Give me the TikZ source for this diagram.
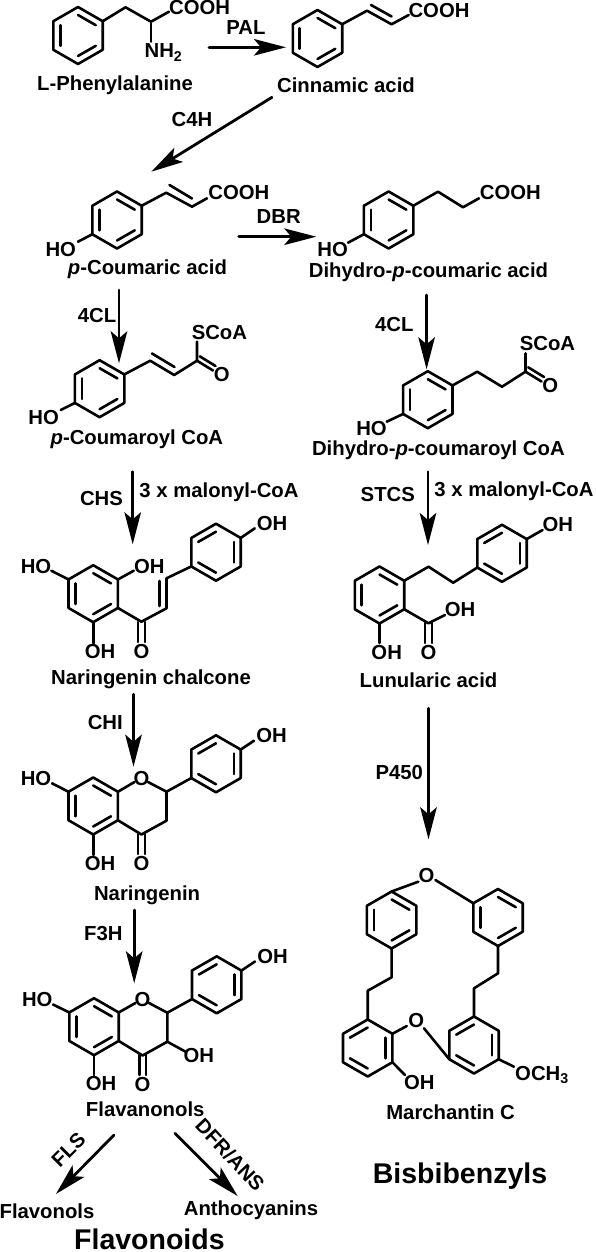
\documentclass[tikz,border=0pt]{standalone}
\usepackage{fontspec}
\setmainfont{Liberation Sans}
\usepackage{tikz}
\usetikzlibrary{arrows.meta}

\begin{document}
\begin{tikzpicture}[
  x=1pt,y=-1pt,
  line cap=round,
  line join=round,
  >={Stealth[length=32pt,width=16.5pt,inset=7pt]},
  bond/.style={draw=black,line width=2.6pt},
  rxn/.style={draw=black,line width=2.8pt,->},
  lab/.style={inner sep=0pt,font=\bfseries\fontsize{20.3}{22}\selectfont},
  big/.style={inner sep=0pt,font=\bfseries\fontsize{28.5}{30}\selectfont},
  ringa/.pic={
    \draw[bond] (0,-28.5) coordinate (-t) -- (24.7,-14.25) coordinate (-ur) -- (24.7,14.25) coordinate (-lr)
      -- (0,28.5) coordinate (-b) -- (-24.7,14.25) coordinate (-ll) -- (-24.7,-14.25) coordinate (-ul) -- cycle;
    \draw[bond] (0,-20.5) -- (17.8,-10.3);
    \draw[bond] (17.8,10.3) -- (0,20.5);
    \draw[bond] (-17.8,10.3) -- (-17.8,-10.3);
  },
  ringb/.pic={
    \draw[bond] (0,-28.5) coordinate (-t) -- (24.7,-14.25) coordinate (-ur) -- (24.7,14.25) coordinate (-lr)
      -- (0,28.5) coordinate (-b) -- (-24.7,14.25) coordinate (-ll) -- (-24.7,-14.25) coordinate (-ul) -- cycle;
    \draw[bond] (0,-20.5) -- (-17.8,-10.3);
    \draw[bond] (-17.8,10.3) -- (0,20.5);
    \draw[bond] (17.8,10.3) -- (17.8,-10.3);
  }
]
\useasboundingbox (0,0) rectangle (596,1252);

% L-Phenylalanine
\pic (phe) at (78,35.5) {ringa};
\draw[bond] (phe-ur) -- (125.5,7.3) -- (151,21.7) -- (169,11.7);
\draw[bond] (151,21.7) -- (151,41.7);
\node[lab] (phecooh) at (199.6,8) {COOH};
\node[lab] (nh) at (163.5,52.5) {NH\textsubscript{2}};
\node[lab] (phename) at (115,85) {L-Phenylalanine};

% Cinnamic acid
\pic (cin) at (317.5,38.5) {ringa};
\draw[bond] (cin-ur) -- (367,10.7) -- (391.6,24.3) -- (408.7,15);
\draw[bond] (371,5) -- (391.6,16.5);
\node[lab] (cincooh) at (439,10.7) {COOH};
\node[lab] (cinname) at (346,85.5) {Cinnamic acid};

% p-Coumaric acid
\pic (cou) at (117,220) {ringa};
\draw[bond] (cou-ur) -- (166.2,192.7) -- (192,206.7) -- (207,198.3);
\draw[bond] (169.5,185) -- (192,198.5);
\draw[bond] (cou-ll) -- (78,241.7);
\node[lab] (coucooh) at (238.8,192.7) {COOH};
\node[lab] (couho) at (60.8,249.3) {HO};
\node[lab] (couname) at (147.5,269) {\textit{p}-Coumaric acid};

% Dihydro-p-coumaric acid
\pic (dih) at (388.6,220) {ringa};
\draw[bond] (dih-ur) -- (438,191.7) -- (463,207.3) -- (479,198.3);
\draw[bond] (dih-ll) -- (348,242.7);
\node[lab] (dihcooh) at (510.3,192.7) {COOH};
\node[lab] (dihho) at (332.7,249.3) {HO};
\node[lab] (dihname) at (428.5,272.5) {Dihydro-\textit{p}-coumaric acid};

% p-Coumaroyl CoA
\pic (coa) at (99.6,388.7) {ringa};
\draw[bond] (coa-ur) -- (150.2,360.7) -- (174.1,375) -- (197,360.7) -- (197,341.7);
\draw[bond] (152,353.5) -- (174.5,367);
\draw[bond] (coa-ll) -- (60.8,410);
\draw[bond] (197,360.7) -- (213,370.5);
\draw[bond] (199.7,356.3) -- (215.5,366);
\node[lab] (coas) at (219.4,332.7) {SCoA};
\node[lab] (coao) at (221.7,375) {O};
\node[lab] (coaho) at (43.7,417.3) {HO};
\node[lab] (coaname) at (136.9,439) {\textit{p}-Coumaroyl CoA};

% Dihydro-p-coumaroyl CoA
\pic (dic) at (427.8,399.7) {ringa};
\draw[bond] (dic-ur) -- (477.2,371.7) -- (502,386.7) -- (525.5,371.7) -- (525.5,353.3);
\draw[bond] (dic-ll) -- (386.7,421.7);
\draw[bond] (525.5,371.7) -- (541.5,381.5);
\draw[bond] (528.2,367.3) -- (544,377);
\node[lab] (dics) at (547.5,343.3) {SCoA};
\node[lab] (dico) at (550.2,386) {O};
\node[lab] (dicho) at (371.5,428.3) {HO};
\node[lab] (dicname) at (438.4,450.5) {Dihydro-\textit{p}-coumaroyl CoA};

% Naringenin chalcone
\pic (cha) at (93.2,593.7) {ringa};
\pic (chb) at (216,552.2) {ringb};
\draw[bond] (cha-lr) -- (141.4,621.7) -- (166.5,608.3) -- (166.5,578.3) -- (chb-ll);
\draw[bond] (159.5,581) -- (159.5,606);
\draw[bond] (138,622) -- (138,642);
\draw[bond] (144.8,622) -- (144.8,642);
\draw[bond] (cha-ul) -- (51.3,570.7);
\draw[bond] (cha-ur) -- (133.8,570.7);
\draw[bond] (cha-b) -- (93.2,643.3);
\draw[bond] (chb-ur) -- (254.8,528.3);
\node[lab] (chaho) at (36,566.7) {HO};
\node[lab] (chaoh) at (149.4,566.7) {OH};
\node[lab] (chaoh2) at (100,651.7) {OH};
\node[lab] (chao) at (141.4,651.7) {O};
\node[lab] (choh) at (272,524) {OH};
\node[lab] (chaname) at (151,679) {Naringenin chalcone};

% Naringenin
\pic (nara) at (93.2,806) {ringa};
\pic (narb) at (216,763.8) {ringb};
\draw[bond] (nara-ur) -- (134.5,782);
\draw[bond] (148,782) -- (166.5,791.7) -- (166.5,820.7) -- (141.4,834.5) -- (nara-lr);
\draw[bond] (166.5,791.7) -- (narb-ll);
\draw[bond] (138,834) -- (138,854);
\draw[bond] (144.8,834) -- (144.8,854);
\draw[bond] (nara-ul) -- (52,783.3);
\draw[bond] (nara-b) -- (93.2,855);
\draw[bond] (narb-ur) -- (254,740.7);
\node[lab] (naro) at (141.4,778.3) {O};
\node[lab] (naro2) at (141.4,864) {O};
\node[lab] (narho) at (36,778.3) {HO};
\node[lab] (naroh) at (100,863.3) {OH};
\node[lab] (naroh2) at (271.5,736) {OH};
\node[lab] (narname) at (147.1,895.5) {Naringenin};

% Flavanonols
\pic (flaa) at (94,1026.7) {ringa};
\pic (flab) at (216.7,984.8) {ringb};
\draw[bond] (flaa-ur) -- (135.5,1003);
\draw[bond] (149,1003) -- (167.3,1012.7) -- (167.3,1041.7) -- (142.6,1055.5) -- (flaa-lr);
\draw[bond] (167.3,1012.7) -- (flab-ll);
\draw[bond] (167.3,1041.7) -- (185.6,1051.7);
\draw[bond] (139.2,1055) -- (139.2,1075);
\draw[bond] (146,1055) -- (146,1075);
\draw[bond] (flaa-ul) -- (53,1004.5);
\draw[bond] (flaa-b) -- (94,1076);
\draw[bond] (flab-ur) -- (255,961.5);
\node[lab] (flao) at (142.6,999.3) {O};
\node[lab] (flao2) at (142.6,1084) {O};
\node[lab] (flaoh) at (198.9,1055.7) {OH};
\node[lab] (flaho) at (37.3,999.3) {HO};
\node[lab] (flaoh2) at (101.1,1083.3) {OH};
\node[lab] (flaoh3) at (272.6,956.7) {OH};
\node[lab] (flaname) at (145.2,1109) {Flavanonols};

% Lunularic acid
\pic (luna) at (379.5,595) {ringa};
\pic (lunb) at (502,553.3) {ringb};
\draw[bond] (luna-ur) -- (428.5,566.7) -- (453.2,582.7) -- (lunb-ll);
\draw[bond] (luna-lr) -- (428.5,623.3) -- (444.9,615);
\draw[bond] (425.1,623) -- (425.1,643);
\draw[bond] (431.9,623) -- (431.9,643);
\draw[bond] (luna-b) -- (379.5,643);
\draw[bond] (lunb-ur) -- (542.6,530);
\node[lab] (lunoh) at (460,610) {OH};
\node[lab] (luno) at (428.5,652.7) {O};
\node[lab] (lunoh2) at (386.7,652.7) {OH};
\node[lab] (lunoh3) at (557.8,525) {OH};
\node[lab] (lunname) at (428.5,680.5) {Lunularic acid};

% Marchantin C
\pic (mup) at (391.6,920) {ringa};
\pic (mur) at (498,917.5) {ringa};
\pic (mlo) at (367.7,1048) {ringb};
\pic (mlr) at (474,1045) {ringb};
\draw[bond] (mup-t) -- (418.3,881.7);
\draw[bond] (mur-ul) -- (435.4,880);
\draw[bond] (mup-b) -- (391.6,977.3) -- (367.7,990.7) -- (mlo-t);
\draw[bond] (mur-b) -- (498,973.3) -- (474,988.3) -- (mlr-t);
\draw[bond] (mlo-ur) -- (406.8,1026);
\draw[bond] (424,1028.3) -- (mlr-ll);
\draw[bond] (mlo-lr) -- (405,1075);
\draw[bond] (mlr-lr) -- (514,1066.7);
\node[lab] (mo) at (426.6,876) {O};
\node[lab] (mo2) at (416.3,1020.7) {O};
\node[lab] (moh) at (419.4,1082.7) {OH};
\node[lab,anchor=west] (moch) at (515,1075) {OCH\textsubscript{3}};
\node[lab] (mname) at (450.6,1112.7) {Marchantin C};
\node[big] (bis) at (460,1176) {Bisbibenzyls};

% Reaction arrows
\coordinate (palA) at (209,47.3);
\coordinate (palB) at (286,47.3);
\draw[rxn] (palA) -- (palB);
\node[lab] (pal) at (246,27.3) {PAL};
\coordinate (chA) at (272,97.3);
\coordinate (chB) at (151.3,171.7);
\draw[rxn] (chA) -- (chB);
\node[lab] (cfh) at (192,119.3) {C4H};
\coordinate (dbA) at (238.8,236.7);
\coordinate (dbB) at (316.3,236.7);
\draw[rxn] (dbA) -- (dbB);
\node[lab] (dbr) at (278.7,216.7) {DBR};
\coordinate (clA) at (119,290);
\coordinate (clB) at (119,363.3);
\draw[rxn] (clA) -- (clB);
\node[lab] (fcl) at (97,316) {4CL};
\coordinate (crA) at (426.6,295);
\coordinate (crB) at (426.6,369.3);
\draw[rxn] (crA) -- (crB);
\node[lab] (fcr) at (394.3,324.3) {4CL};
\coordinate (csA) at (132.7,471.7);
\coordinate (csB) at (132.7,544.3);
\draw[rxn] (csA) -- (csB);
\node[lab] (chs) at (101.5,498.3) {CHS};
\node[lab] (mall) at (219,492.3) {3 x malonyl-CoA};
\coordinate (stA) at (428,471.7);
\coordinate (stB) at (428,545);
\draw[rxn] (stA) -- (stB);
\node[lab] (stcs) at (387.8,494.3) {STCS};
\node[lab] (malr) at (514,491) {3 x malonyl-CoA};
\coordinate (ciA) at (133.5,694.3);
\coordinate (ciB) at (133.5,766.7);
\draw[rxn] (ciA) -- (ciB);
\node[lab] (chi) at (105.3,722.7) {CHI};
\coordinate (fhA) at (134.2,910);
\coordinate (fhB) at (134.2,983.3);
\draw[rxn] (fhA) -- (fhB);
\node[lab] (fth) at (103.4,934) {F3H};
\coordinate (poA) at (428.5,708.3);
\coordinate (poB) at (428.5,839.3);
\draw[rxn] (poA) -- (poB);
\node[lab] (pfo) at (399.2,772.7) {P450};
\coordinate (flA) at (114,1135);
\coordinate (flB) at (55.9,1194);
\draw[rxn] (flA) -- (flB);
\node[lab,rotate=45] (fls) at (68.4,1150) {FLS};
\coordinate (dfA) at (174.9,1133.3);
\coordinate (dfB) at (237.6,1196);
\draw[rxn] (dfA) -- (dfB);
\node[lab,rotate=-47] (dfr) at (230,1155) {DFR/ANS};

\node[lab] (flo) at (47,1211) {Flavonols};
\node[lab] (ant) at (251,1210.5) {Anthocyanins};
\node[big] (fnd) at (149.4,1239.5) {Flavonoids};

\end{tikzpicture}
\end{document}
